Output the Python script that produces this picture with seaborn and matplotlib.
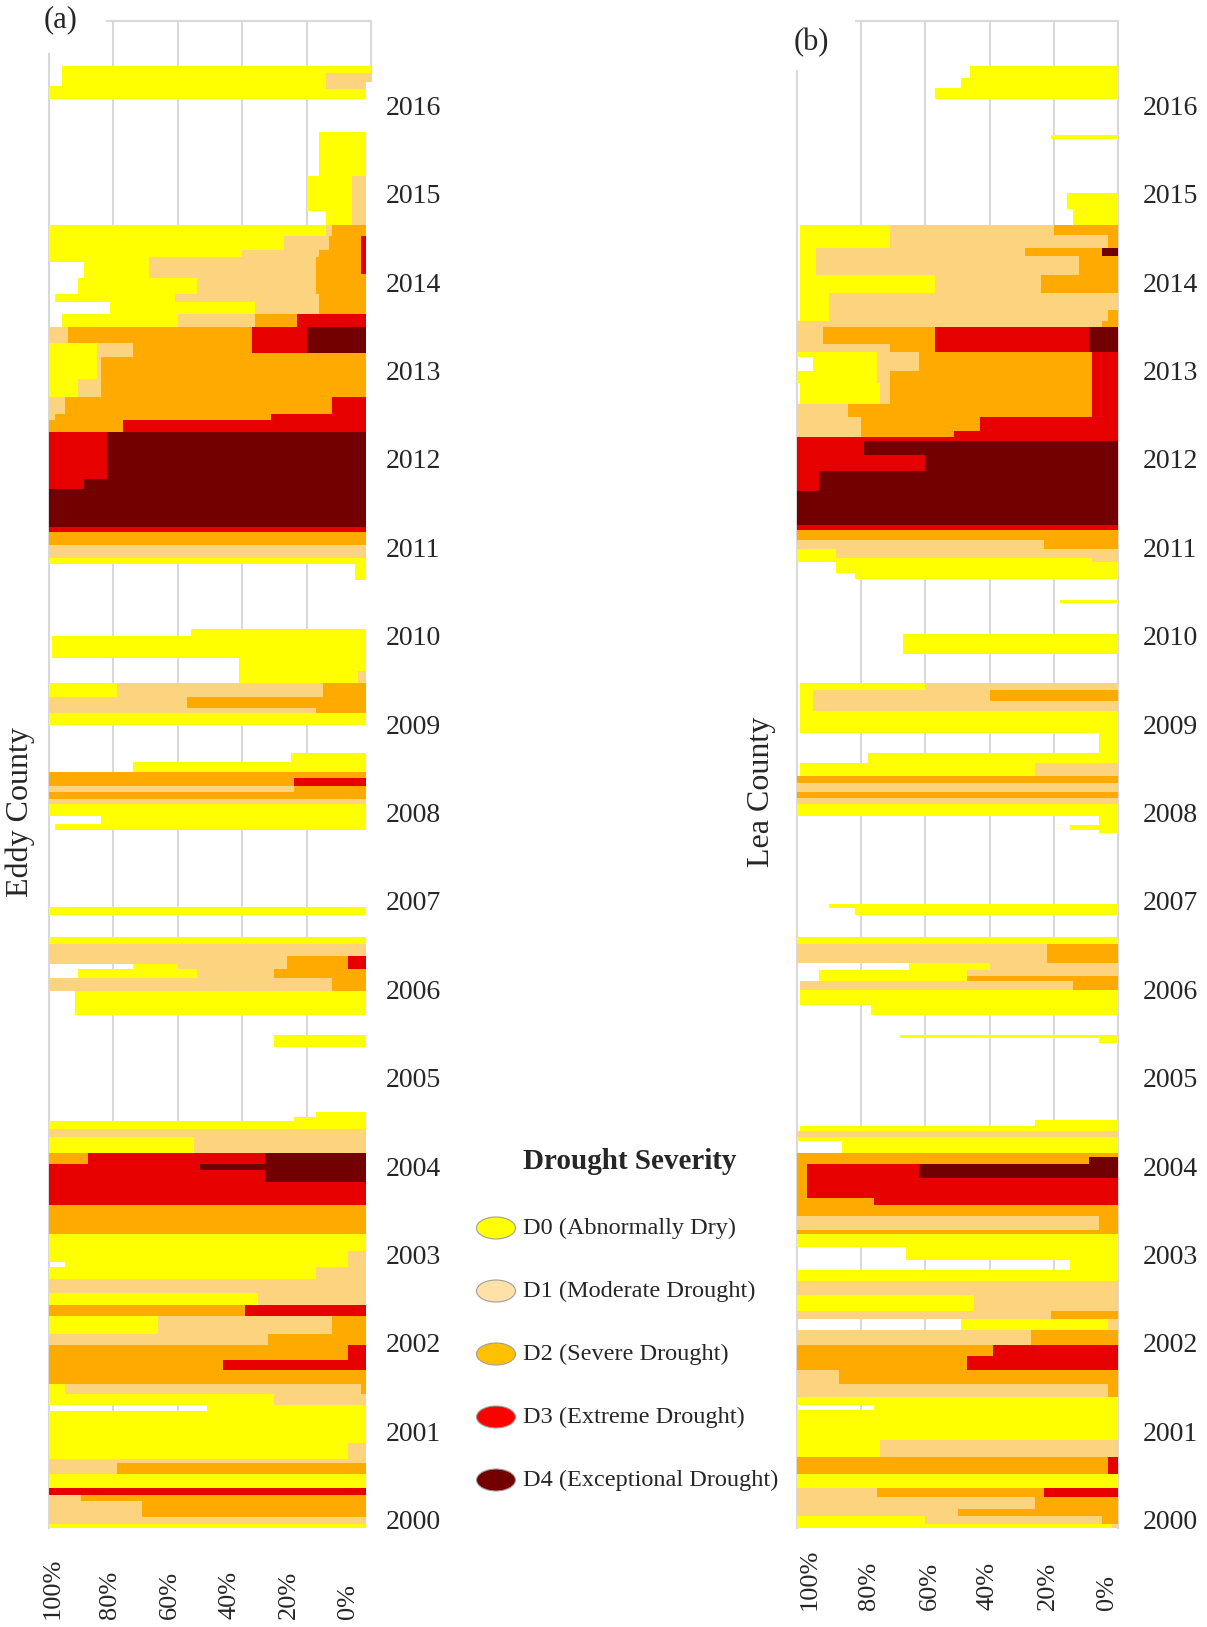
import numpy as np
import matplotlib
matplotlib.use("Agg")
import matplotlib.pyplot as plt
import seaborn as sns
from matplotlib.patches import Ellipse, Rectangle
from matplotlib.transforms import blended_transform_factory

# ---------------- data (percent of county area, cumulative D0..D4) ----------------
# each row holds from its time down to the next (older) time
years = list(range(2000, 2017))
pct_labels = ["100%", "80%", "60%", "40%", "20%", "0%"]
severity_labels = ["D0 (Abnormally Dry)", "D1 (Moderate Drought)", "D2 (Severe Drought)",
                   "D3 (Extreme Drought)", "D4 (Exceptional Drought)"]

eddy_time = [2016.54, 2016.46, 2016.31, 2016.28, 2016.17, 2015.79, 2015.30, 2014.90, 2014.74, 2014.62,
             2014.46, 2014.38, 2014.32, 2014.19, 2014.14, 2013.96, 2013.87, 2013.74, 2013.59, 2013.41,
             2013.29, 2013.25, 2013.00, 2012.80, 2012.60, 2012.54, 2012.40, 2011.87, 2011.75,
             2011.33, 2011.27, 2011.12, 2010.97, 2010.91, 2010.72,
             2010.17, 2010.09, 2009.84, 2009.70, 2009.56, 2009.40, 2009.28, 2009.22, 2009.08, 2008.77,
             2008.67, 2008.55, 2008.49, 2008.40, 2008.33, 2008.25, 2008.19, 2008.06, 2007.96, 2007.90,
             2007.03, 2006.94, 2006.69, 2006.61, 2006.47, 2006.38, 2006.32, 2006.22, 2006.07, 2005.80,
             2005.58, 2005.44,
             2004.71, 2004.65, 2004.60, 2004.51, 2004.42, 2004.24, 2004.12, 2004.05, 2003.92, 2003.66,
             2003.33, 2003.13, 2003.01, 2002.95, 2002.82, 2002.66, 2002.52, 2002.40, 2002.20, 2002.07,
             2001.90, 2001.79, 2001.63, 2001.52, 2001.39, 2001.32, 2000.96, 2000.78, 2000.73, 2000.61,
             2000.45, 2000.37, 2000.30, 2000.13, 2000.05, 2000.00]
eddy_d0 = [96, 96, 100, 100, 0, 16, 20, 14, 100, 100,
           100, 100, 89, 89, 91, 98, 81, 96, 100, 100,
           100, 100, 100, 100, 100, 100, 100, 100, 100,
           100, 100, 100, 100, 5, 0,
           56, 99, 41, 41, 100, 100, 100, 100, 0, 25,
           74, 100, 100, 100, 100, 100, 100, 84, 98, 0,
           100, 0, 100, 100, 100, 74, 91, 100, 92, 0,
           30, 0,
           17, 24, 100, 100, 100, 100, 100, 100, 100, 100,
           100, 100, 95, 100, 100, 100, 100, 100, 100, 100,
           100, 100, 100, 100, 51, 100, 100, 100, 100, 100,
           100, 100, 100, 100, 100, 0]
eddy_d1 = [0, 14, 14, 0, 0, 0, 6, 6, 14, 27,
           40, 69, 69, 69, 54, 61, 36, 60, 100, 85,
           85, 85, 91, 100, 100, 100, 100, 100, 100,
           100, 100, 100, 0, 0, 0,
           0, 0, 0, 4, 79, 100, 100, 0, 0, 0,
           0, 100, 100, 100, 100, 100, 0, 0, 0, 0,
           0, 0, 0, 100, 100, 60, 54, 100, 0, 0,
           0, 0,
           0, 0, 0, 100, 55, 100, 100, 100, 100, 100,
           0, 7, 7, 17, 100, 35, 100, 66, 100, 100,
           100, 100, 95, 30, 0, 0, 7, 100, 100, 0,
           100, 100, 100, 100, 0, 0]
eddy_d2 = [0, 0, 0, 0, 0, 0, 0, 0, 12, 13,
           16, 17, 17, 17, 17, 16, 16, 36, 94, 74,
           74, 84, 84, 95, 98, 100, 100, 100, 100,
           100, 100, 0, 0, 0, 0,
           0, 0, 0, 0, 15, 57, 17, 0, 0, 0,
           0, 100, 100, 24, 100, 0, 0, 0, 0, 0,
           0, 0, 0, 0, 26, 26, 30, 12, 0, 0,
           0, 0,
           0, 0, 0, 0, 0, 100, 100, 100, 100, 100,
           0, 0, 0, 0, 0, 0, 100, 12, 32, 100,
           100, 100, 3, 0, 0, 0, 0, 0, 79, 0,
           100, 90, 71, 0, 0, 0]
eddy_d3 = [0, 0, 0, 0, 0, 0, 0, 0, 0, 3,
           3, 3, 3, 0, 0, 0, 0, 23, 37, 37,
           0, 0, 0, 12, 31, 77, 100, 100, 100,
           100, 0, 0, 0, 0, 0,
           0, 0, 0, 0, 0, 0, 0, 0, 0, 0,
           0, 0, 24, 0, 0, 0, 0, 0, 0, 0,
           0, 0, 0, 0, 7, 7, 0, 0, 0, 0,
           0, 0,
           0, 0, 0, 0, 0, 88, 100, 100, 100, 0,
           0, 0, 0, 0, 0, 0, 39, 0, 0, 7,
           46, 0, 0, 0, 0, 0, 0, 0, 0, 0,
           100, 0, 0, 0, 0, 0]
eddy_d4 = [0, 0, 0, 0, 0, 0, 0, 0, 0, 0,
           0, 0, 0, 0, 0, 0, 0, 0, 20, 20,
           0, 0, 0, 0, 0, 0, 82, 89, 100,
           0, 0, 0, 0, 0, 0,
           0, 0, 0, 0, 0, 0, 0, 0, 0, 0,
           0, 0, 0, 0, 0, 0, 0, 0, 0, 0,
           0, 0, 0, 0, 0, 0, 0, 0, 0, 0,
           0, 0,
           0, 0, 0, 0, 0, 33, 53, 33, 0, 0,
           0, 0, 0, 0, 0, 0, 0, 0, 0, 0,
           0, 0, 0, 0, 0, 0, 0, 0, 0, 0,
           0, 0, 0, 0, 0, 0]

lea_time = [2016.54, 2016.41, 2016.29, 2016.17, 2015.76, 2015.72, 2015.10, 2014.92, 2014.74, 2014.63,
            2014.48, 2014.39, 2014.18, 2013.97, 2013.78, 2013.66, 2013.59, 2013.39, 2013.31, 2013.25,
            2013.09, 2012.96, 2012.72, 2012.57, 2012.41, 2012.34, 2012.30, 2012.14, 2011.96, 2011.73,
            2011.35, 2011.29, 2011.18, 2011.08, 2010.97, 2010.93, 2010.80, 2010.74, 2010.50, 2010.46,
            2010.11, 2009.89, 2009.56, 2009.48, 2009.36, 2009.24, 2009.00, 2008.77, 2008.66, 2008.51,
            2008.43, 2008.33, 2008.26, 2008.19, 2008.06, 2007.95, 2007.90, 2007.86, 2007.06, 2007.01,
            2006.94, 2006.69, 2006.61, 2006.39, 2006.31, 2006.24, 2006.19, 2006.09, 2005.92, 2005.80,
            2005.58, 2005.54, 2005.49,
            2004.62, 2004.55, 2004.49, 2004.42, 2004.38, 2004.24, 2004.20, 2004.12,
            2003.96, 2003.73, 2003.66, 2003.53, 2003.37, 2003.33, 2003.18, 2003.03, 2002.92, 2002.80,
            2002.64, 2002.46, 2002.37, 2002.24, 2002.07, 2001.95, 2001.79, 2001.63, 2001.48, 2001.39,
            2001.34, 2001.00, 2000.80, 2000.61, 2000.45, 2000.35, 2000.22, 2000.14, 2000.05, 2000.00]
lea_d0 = [46, 49, 57, 0, 21, 0, 16, 14, 99, 99,
          99, 99, 99, 99, 99, 100, 100, 100, 100, 95,
          100, 99, 100, 100, 100, 100, 100, 100, 100, 100,
          100, 100, 100, 100, 100, 88, 82, 0, 18, 0,
          67, 0, 99, 99, 99, 99, 6, 78, 99, 100,
          100, 100, 100, 100, 6, 15, 6, 0, 90, 82,
          0, 100, 100, 65, 93, 93, 99, 99, 77, 0,
          68, 6, 0,
          26, 99, 100, 100, 86, 100, 100, 100,
          100, 100, 100, 100, 100, 100, 66, 15, 100, 100,
          100, 100, 49, 100, 100, 100, 100, 100, 100, 76,
          100, 100, 100, 100, 100, 100, 100, 100, 100, 0]
lea_d1 = [0, 0, 0, 0, 0, 0, 0, 0, 71, 71,
          94, 94, 57, 90, 90, 100, 100, 100, 75, 75,
          75, 74, 100, 100, 100, 100, 100, 100, 100, 100,
          100, 100, 100, 88, 8, 0, 0, 0, 0, 0,
          0, 0, 60, 95, 95, 0, 0, 0, 26, 100,
          100, 100, 100, 0, 0, 0, 0, 0, 0, 0,
          0, 0, 100, 40, 47, 47, 99, 0, 0, 0,
          0, 0, 0,
          0, 0, 100, 0, 0, 100, 100, 100,
          100, 100, 100, 100, 100, 0, 0, 0, 0, 100,
          45, 100, 3, 100, 100, 100, 100, 100, 0, 0,
          0, 74, 100, 0, 100, 100, 100, 60, 2, 0]
lea_d2 = [0, 0, 0, 0, 0, 0, 0, 0, 20, 3,
          29, 12, 24, 0, 3, 5, 92, 71, 62, 62,
          71, 71, 84, 80, 80, 100, 100, 100, 100, 100,
          100, 100, 23, 0, 0, 0, 0, 0, 0, 0,
          0, 0, 0, 40, 0, 0, 0, 0, 0, 100,
          0, 100, 0, 0, 0, 0, 0, 0, 0, 0,
          0, 0, 22, 0, 0, 47, 14, 0, 0, 0,
          0, 0, 0,
          0, 0, 0, 0, 0, 100, 100, 100,
          100, 100, 100, 6, 100, 0, 0, 0, 0, 0,
          0, 21, 0, 27, 100, 100, 87, 3, 0, 0,
          0, 0, 100, 0, 75, 26, 50, 5, 0, 0]
lea_d3 = [0, 0, 0, 0, 0, 0, 0, 0, 0, 0,
          5, 0, 0, 0, 0, 0, 57, 57, 8, 8,
          8, 8, 8, 43, 51, 100, 100, 100, 100, 100,
          100, 0, 0, 0, 0, 0, 0, 0, 0, 0,
          0, 0, 0, 0, 0, 0, 0, 0, 0, 0,
          0, 0, 0, 0, 0, 0, 0, 0, 0, 0,
          0, 0, 0, 0, 0, 0, 0, 0, 0, 0,
          0, 0, 0,
          0, 0, 0, 0, 0, 0, 9, 97,
          97, 76, 0, 0, 0, 0, 0, 0, 0, 0,
          0, 0, 0, 0, 39, 47, 0, 0, 0, 0,
          0, 0, 3, 0, 23, 0, 0, 0, 0, 0]
lea_d4 = [0, 0, 0, 0, 0, 0, 0, 0, 0, 0,
          5, 0, 0, 0, 0, 0, 9, 9, 0, 0,
          0, 0, 0, 0, 0, 0, 79, 60, 93, 100,
          0, 0, 0, 0, 0, 0, 0, 0, 0, 0,
          0, 0, 0, 0, 0, 0, 0, 0, 0, 0,
          0, 0, 0, 0, 0, 0, 0, 0, 0, 0,
          0, 0, 0, 0, 0, 0, 0, 0, 0, 0,
          0, 0, 0,
          0, 0, 0, 0, 0, 0, 9, 62,
          0, 0, 0, 0, 0, 0, 0, 0, 0, 0,
          0, 0, 0, 0, 0, 0, 0, 0, 0, 0,
          0, 0, 0, 0, 0, 0, 0, 0, 0, 0]

# ---------------- style ----------------
sns.set_theme(style="white")
plt.rcParams['font.family'] = ['Liberation Serif', 'DejaVu Serif']

severity_colors = ["#FFFF00", "#FCD37F", "#FFAA00", "#E60000", "#730000"]
legend_colors = ["#FFFF00", "#FFE1A8", "#FFC000", "#FF0000", "#730000"]
grid_color = "#D9D9D9"

W, H = 1207, 1627
TOP, BOTTOM = 21, 1528
fig = plt.figure(figsize=(W / 100, H / 100), dpi=100)


def fx(px):
    return px / W


def fy(py):
    return 1 - py / H


def draw_panel(left_px, right_px, time, levels, tick_pad_px, pct_pos, pct_bottom_px):
    ax = fig.add_axes([fx(left_px), fy(BOTTOM), (right_px - left_px) / W, (BOTTOM - TOP) / H])
    t = np.asarray(time, float)[::-1]
    for vals, col in zip(levels, severity_colors):
        ax.fill_betweenx(t, 0, np.asarray(vals, float)[::-1], step='pre',
                         color=col, linewidth=0, zorder=1)
    ax.set_xlim(100, 0)
    ax.set_ylim(2000, 2017.05)
    ax.set_xticks(range(0, 101, 20))
    ax.grid(axis='x', color=grid_color, lw=1.5)
    ax.grid(axis='y', visible=False)
    ax.set_axisbelow(True)
    sns.despine(ax=ax, top=False, right=False, left=False, bottom=True)
    for s in ['left', 'right', 'top']:
        ax.spines[s].set_color(grid_color)
        ax.spines[s].set_linewidth(1.5)
        ax.spines[s].set_zorder(0.5)
    ax.yaxis.tick_right()
    ax.set_yticks([y + 0.095 for y in years], labels=[str(y) for y in years])
    ax.tick_params(axis='y', length=0, pad=tick_pad_px * 0.72, labelsize=20)
    ax.tick_params(axis='x', length=0, top=False, bottom=False,
                   labelbottom=False, labeltop=False)
    trans = blended_transform_factory(ax.transData, fig.transFigure)
    for p, lab in zip(pct_pos, pct_labels):
        ax.text(p, fy(pct_bottom_px), lab, transform=trans, rotation=90,
                ha='center', va='bottom', fontsize=19, clip_on=False)
    return ax


ax_a = draw_panel(49, 371, eddy_time, [eddy_d0, eddy_d1, eddy_d2, eddy_d3, eddy_d4],
                  15, [99, 81, 62.5, 44, 25.5, 7], 1619)
ax_b = draw_panel(797, 1118, lea_time, [lea_d0, lea_d1, lea_d2, lea_d3, lea_d4],
                  25, [96, 77.6, 58.6, 40.5, 22, 3.4], 1610)

# white cover boxes (as in the composed original figure)
for (x0, y0, x1, y1) in [(0, 0, 106, 53), (740, 0, 855, 70), (366, 82, 381, 1532)]:
    fig.add_artist(Rectangle((fx(x0), fy(y1)), (x1 - x0) / W, (y1 - y0) / H,
                             transform=fig.transFigure, facecolor='white',
                             edgecolor='none', zorder=2))

# panel letters and county labels
fig.text(fx(44), fy(20), "(a)", ha='left', va='center', fontsize=22, zorder=3)
fig.text(fx(794), fy(43), "(b)", ha='left', va='center', fontsize=22, zorder=3)
fig.text(fx(20), fy(812), "Eddy County", rotation=90, ha='center', va='center', fontsize=23)
fig.text(fx(762), fy(792), "Lea County", rotation=90, ha='center', va='center', fontsize=23)

# legend
lax = fig.add_axes([fx(460), fy(1500), 330 / W, 370 / H])
lax.set_xlim(460, 790)
lax.set_ylim(1500, 1130)
lax.axis('off')
lax.text(630, 1162, "Drought Severity", ha='center', va='center', fontsize=21, fontweight='bold')
for i, (lab, col) in enumerate(zip(severity_labels, legend_colors)):
    yc = 1228 + i * 63
    lax.add_patch(Ellipse((496, yc), 39, 22, facecolor=col, edgecolor='#9E9E9E', lw=0.8))
    lax.text(523, yc, lab, ha='left', va='center', fontsize=17.5)

fig.savefig("out.png", dpi=100)
